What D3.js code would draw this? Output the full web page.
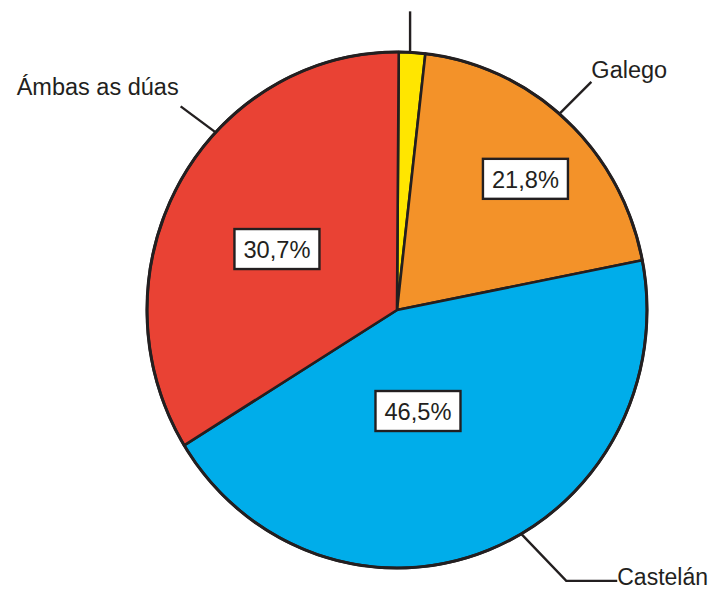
<!DOCTYPE html>
<html>
<head>
<meta charset="utf-8">
<script src="https://cdn.jsdelivr.net/npm/d3@7"></script>
<style>
  html, body { margin: 0; padding: 0; background: #fff; }
  svg { display: block; }
  text { font-family: "Liberation Sans", Arial, Helvetica, sans-serif; fill: #231f20; }
</style>
</head>
<body>
<svg id="chart" width="716" height="589"></svg>
<script>
// ---- data (slice shares as drawn, printed labels) ----
const categories = ["", "Galego", "Castelán", "Ámbas as dúas"];
const sliceValues = [1.7, 20.1, 44.3, 33.9];
const percentLabels = [null, "21,8%", "46,5%", "30,7%"];
const colors = ["#ffe600", "#f39229", "#00adea", "#e94234"];

// ---- layout ----
const W = 716, H = 589;
const cx = 397, cy = 310, R = 250, yScale = 1.032;
const startDeg = 0.4;
const deg = Math.PI / 180;

// percent box placement (angle in deg, radius in px, unscaled pie coords)
const boxPlacement = [null, {a: 45.3, r: 180.7}, {a: 167.9, r: 100.1}, {a: 296.2, r: 133.8}];
// leader lines: angle of arc point, and path offsets from it
const leaders = [
  {a: 3.0, pts: [[0, 0], [0, -41]], text: null},
  {a: 40.5, pts: [[0, 0], [32, -32]], text: {dx: 32, dy: -36, anchor: "start", size: 23.5}},
  {a: 150.2, pts: [[0, 0], [45, 47], [96, 47]], text: {dx: 96, dy: 51, anchor: "start", size: 23}},
  {a: 313.5, pts: [[0, 0], [-35, -26]], text: {dx: -37, dy: -37, anchor: "end", size: 23.5}}
];

const svg = d3.select("#chart");

const pie = d3.pie().sort(null).value(d => d)
  .startAngle(startDeg * deg).endAngle(startDeg * deg + 2 * Math.PI);
const arcs = pie(sliceValues);
const arc = d3.arc().innerRadius(0).outerRadius(R);

const g = svg.append("g").attr("transform", `translate(${cx},${cy}) scale(1,${yScale})`);

g.selectAll("path.slice")
  .data(arcs)
  .join("path")
  .attr("class", "slice")
  .attr("d", arc)
  .attr("fill", (d, i) => colors[i])
  .attr("stroke", "#231f20")
  .attr("stroke-width", 2.6)
  .attr("stroke-linejoin", "round")
  .attr("vector-effect", "non-scaling-stroke");

// outer ring stroke
g.append("circle").attr("r", R).attr("fill", "none")
  .attr("stroke", "#231f20").attr("stroke-width", 3)
  .attr("vector-effect", "non-scaling-stroke");

// point on the ellipse at angle a (deg, clockwise from top)
function edgePoint(a, r) {
  return [cx + r * Math.sin(a * deg), cy - r * Math.cos(a * deg) * yScale];
}

// leader lines and category labels
leaders.forEach((L, i) => {
  const [px, py] = edgePoint(L.a, R);
  const line = d3.line();
  svg.append("path")
    .attr("d", line(L.pts.map(p => [px + p[0], py + p[1]])))
    .attr("fill", "none")
    .attr("stroke", "#231f20")
    .attr("stroke-width", 2.4);
  if (L.text && categories[i]) {
    svg.append("text")
      .attr("x", px + L.text.dx)
      .attr("y", py + L.text.dy)
      .attr("text-anchor", L.text.anchor)
      .attr("font-size", L.text.size)
      .text(categories[i]);
  }
});

// percentage boxes
const bw = 85, bh = 40;
percentLabels.forEach((lab, i) => {
  if (!lab) return;
  const p = boxPlacement[i];
  const [x, y] = edgePoint(p.a, p.r);
  const bg = svg.append("g").attr("transform", `translate(${x},${y})`);
  bg.append("rect")
    .attr("x", -bw / 2).attr("y", -bh / 2)
    .attr("width", bw).attr("height", bh)
    .attr("fill", "#fff")
    .attr("stroke", "#231f20")
    .attr("stroke-width", 2.4);
  bg.append("text")
    .attr("x", 0).attr("y", 9)
    .attr("text-anchor", "middle")
    .attr("font-size", 24.5)
    .attr("textLength", 67)
    .attr("lengthAdjust", "spacingAndGlyphs")
    .text(lab);
});
</script>
</body>
</html>
